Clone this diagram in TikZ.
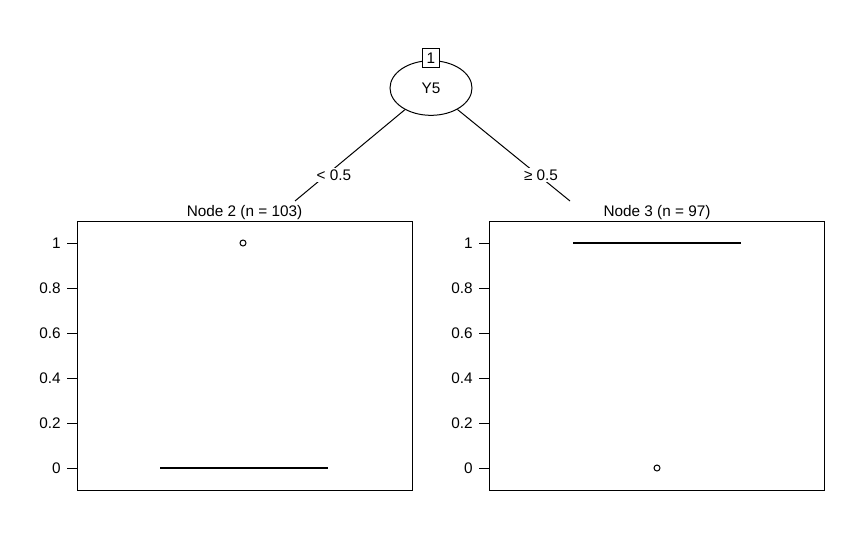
\documentclass[tikz,border=0pt]{standalone}
\usepackage{fontspec}
\setmainfont{Liberation Sans}
\usetikzlibrary{shapes.geometric}

\tikzset{
  split/.style={ellipse,draw,minimum width=61.5pt,minimum height=41pt,inner sep=0pt},
  idbox/.style={draw,fill=white,minimum width=12.75pt,minimum height=14pt,inner sep=0pt},
  edgelbl/.style={fill=white,inner sep=1pt},
  panel/.style={draw,minimum width=251.25pt,minimum height=201.75pt,inner sep=0pt},
  median/.style={line width=1.5pt},
  outlier/.style={draw,circle,minimum size=4.5pt,inner sep=0pt}
}

\begin{document}
\begin{tikzpicture}[x=0.75pt,y=-0.75pt,line width=0.75pt,font=\fontsize{11.5}{13.5}\selectfont]
\useasboundingbox (0,0) rectangle (864,539);

% inner node
\node[split] (root) at (431,88) {Y5};
\node[idbox] (id1) at (431,58) {1};

% terminal panels
\node[panel] (p2) at (244.5,355.5) {};
\node[panel] (p3) at (657,355.5) {};
\node[above,inner sep=0.5pt] (t2) at (p2.north) {Node 2 (n = 103)};
\node[above,inner sep=0.5pt] (t3) at (p3.north) {Node 3 (n = 97)};
\coordinate (e2) at (295,201);
\coordinate (e3) at (570,201);

% edges
\draw (root) -- (e2);
\draw (root) -- (e3);
\node[edgelbl] (l2) at (334,175) {< 0.5};
\node[edgelbl] (l3) at (541,175) {≥ 0.5};

% axes
\foreach \v/\t in {0/0,0.2/0.2,0.4/0.4,0.6/0.6,0.8/0.8,1/1}{
  \draw (67,468-225*\v) -- (77,468-225*\v) node[anchor=east,xshift=-8.5pt] {\t};
  \draw (479,468-225*\v) -- (489,468-225*\v) node[anchor=east,xshift=-8.5pt] {\t};
}

% boxplots
\draw[median] (160,468) -- (328,468);
\node[outlier] (o2) at (243,243) {};
\draw[median] (573,243) -- (741,243);
\node[outlier] (o3) at (657,468) {};
\end{tikzpicture}
\end{document}
